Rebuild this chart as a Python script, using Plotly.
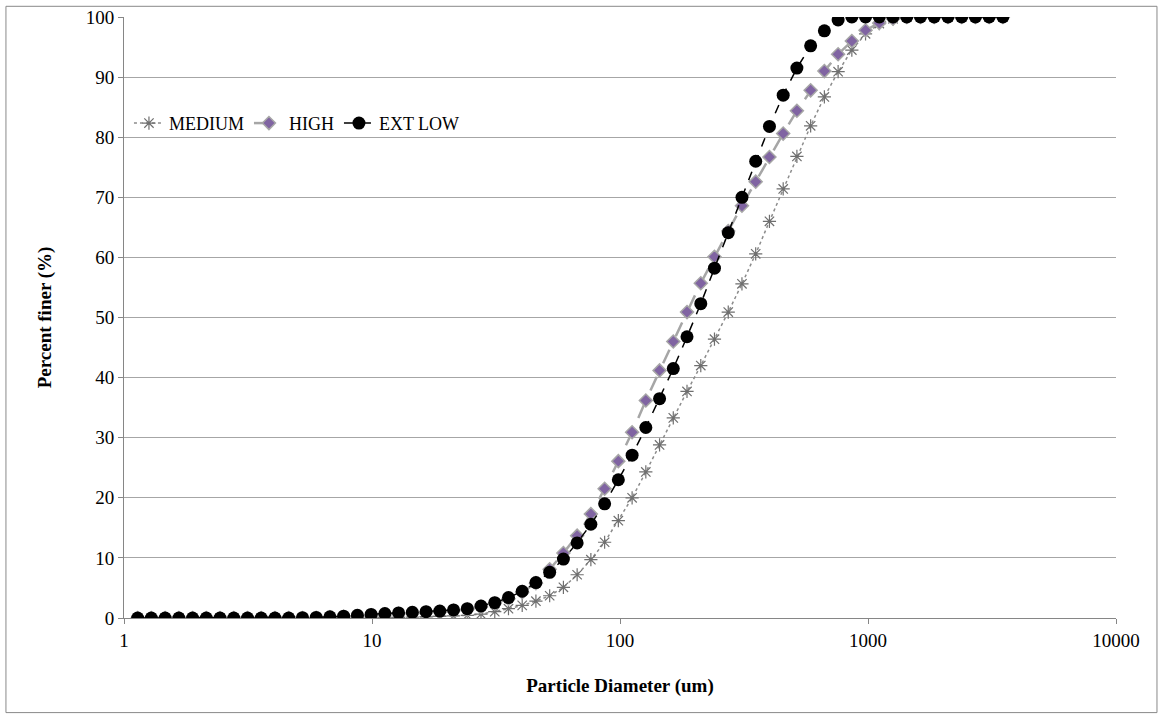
import plotly.graph_objects as go

diameter_um = [
    1.135, 1.289, 1.465, 1.664, 1.890, 2.147, 2.439, 2.771, 3.148, 3.575,
    4.061, 4.615, 5.243, 5.956, 6.766, 7.685, 8.732, 9.919, 11.27, 12.80,
    14.54, 16.52, 18.77, 21.32, 24.22, 27.51, 31.26, 35.51, 40.33, 45.81,
    52.05, 59.13, 67.17, 76.30, 86.69, 98.47, 111.9, 127.1, 144.4, 164.0,
    186.3, 211.7, 240.4, 273.2, 310.3, 352.5, 400.5, 455.0, 516.8, 587.1,
    666.9, 757.7, 860.7, 977.5, 1110.6, 1261.7, 1433.3, 1628.3, 1849.2, 2100.9,
    2386.7, 2711.4, 3080.2, 3499.2,
]

medium = [
    0, 0, 0, 0, 0, 0, 0, 0, 0, 0,
    0, 0, 0, 0, 0, 0, 0.02, 0.05, 0.08, 0.12,
    0.15, 0.2, 0.27, 0.35, 0.45, 0.65, 1.05, 1.55, 2.1, 2.8,
    3.7, 5.1, 7.2, 9.7, 12.6, 16.2, 20.0, 24.3, 28.8, 33.3,
    37.7, 42.0, 46.4, 50.9, 55.6, 60.6, 66.0, 71.4, 76.8, 81.9,
    86.7, 90.9, 94.5, 97.2, 98.9, 99.7, 100, 100, 100, 100,
    100, 100, 100, 100,
]

high = [
    0, 0, 0, 0, 0, 0, 0, 0, 0, 0,
    0, 0, 0, 0.05, 0.1, 0.2, 0.3, 0.45, 0.6, 0.7,
    0.8, 0.9, 1.0, 1.2, 1.4, 1.85, 2.4, 3.2, 4.3, 5.8,
    8.1, 10.8, 13.7, 17.3, 21.5, 26.1, 30.9, 36.2, 41.2, 46.0,
    50.9, 55.7, 60.1, 64.4, 68.6, 72.6, 76.7, 80.6, 84.4, 87.8,
    91.0, 93.8, 96.0, 97.8, 99.0, 99.7, 100, 100, 100, 100,
    100, 100, 100, 100,
]

ext_low = [
    0, 0, 0, 0, 0, 0, 0, 0, 0, 0,
    0, 0, 0.05, 0.1, 0.2, 0.3, 0.45, 0.6, 0.75, 0.85,
    0.95, 1.05, 1.15, 1.35, 1.55, 2.0, 2.55, 3.4, 4.45, 5.9,
    7.6, 9.8, 12.5, 15.6, 19.0, 23.0, 27.1, 31.7, 36.5, 41.5,
    46.8, 52.3, 58.2, 64.1, 70.0, 76.0, 81.8, 87.0, 91.5, 95.2,
    97.7, 99.5, 100, 100, 100, 100, 100, 100, 100, 100,
    100, 100, 100, 100,
]

y_ticks = [0, 10, 20, 30, 40, 50, 60, 70, 80, 90, 100]
x_ticks = [1, 10, 100, 1000, 10000]

FONT = "Liberation Serif"
FS = 19

fig = go.Figure()
fig.add_trace(go.Scatter(
    x=diameter_um, y=medium, name="MEDIUM", mode="lines+markers",
    line=dict(color="#8c8c8c", width=1.5, dash="dot"),
    marker=dict(symbol="asterisk-open", size=11, color="#6f6f6f",
                line=dict(color="#6f6f6f", width=1.2)),
))
fig.add_trace(go.Scatter(
    x=diameter_um, y=high, name="HIGH", mode="lines+markers",
    line=dict(color="#a6a6a6", width=2.5, dash="longdash"),
    marker=dict(symbol="diamond", size=10, color="#8064a2",
                line=dict(color="#a6a6a6", width=1.5)),
))
fig.add_trace(go.Scatter(
    x=diameter_um, y=ext_low, name="EXT LOW", mode="lines+markers",
    line=dict(color="#000000", width=1.5, dash="dash"),
    marker=dict(symbol="circle", size=13, color="#000000"),
))

fig.update_layout(
    width=1163, height=719,
    margin=dict(l=124, r=47, t=17, b=101, autoexpand=False),
    paper_bgcolor="white", plot_bgcolor="white",
    font=dict(family=FONT, size=FS, color="black"),
    showlegend=True,
    legend=dict(orientation="h", x=0.005, y=0.823, xanchor="left", yanchor="middle",
                font=dict(family=FONT, size=18, color="black"),
                bgcolor="rgba(0,0,0,0)", itemwidth=30, tracegroupgap=0),
    xaxis=dict(
        type="log", range=[0, 4], automargin=False,
        tickvals=x_ticks, ticktext=[str(v) for v in x_ticks],
        showgrid=False, zeroline=False,
        showline=True, linecolor="#868686", linewidth=1,
        ticks="outside", ticklen=5, tickcolor="#868686",
        tickfont=dict(family=FONT, size=FS),
        title=dict(text="<b>Particle Diameter (um)</b>", font=dict(family=FONT, size=FS), standoff=28),
    ),
    yaxis=dict(
        range=[0, 100], tickvals=y_ticks, automargin=False,
        showgrid=True, gridcolor="#a6a6a6", gridwidth=1,
        zeroline=False,
        showline=True, linecolor="#868686", linewidth=1,
        ticks="outside", ticklen=5, tickcolor="#868686",
        tickfont=dict(family=FONT, size=FS),
        title=dict(text="<b>Percent finer (%)</b>", font=dict(family=FONT, size=FS), standoff=29),
    ),
    shapes=[dict(type="rect", xref="paper", yref="paper",
                 x0=-0.119, x1=1.0413, y0=-0.1574, y1=1.0178,
                 line=dict(color="#898989", width=1), layer="below")],
)

fig.write_html("out.html")
